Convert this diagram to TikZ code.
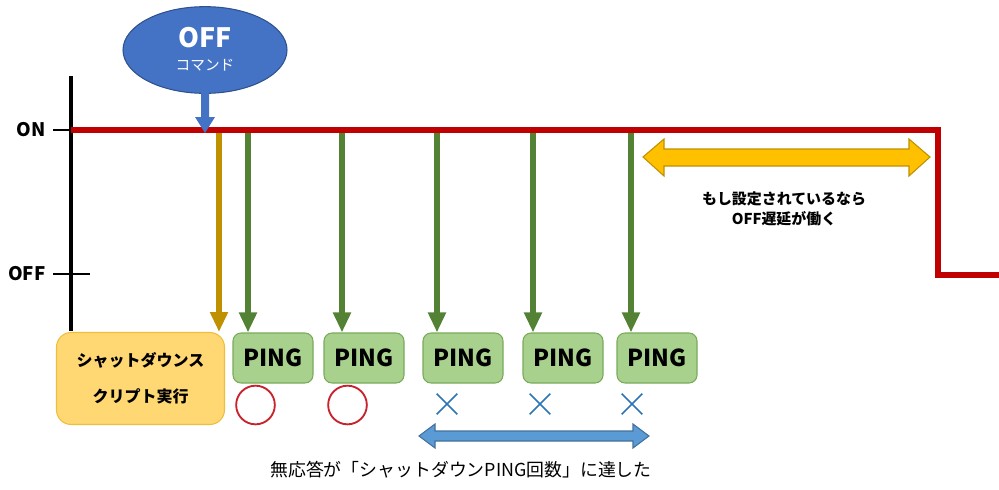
\documentclass[tikz,border=0pt]{standalone}
\usepackage{fontspec}
\setmainfont{Noto Sans CJK JP}
\usetikzlibrary{arrows.meta,shapes.geometric}
\definecolor{redline}{RGB}{192,0,0}
\definecolor{goldline}{RGB}{191,144,0}
\definecolor{greenline}{RGB}{84,130,53}
\definecolor{bluefill}{RGB}{68,114,196}
\definecolor{blueedge}{RGB}{47,82,143}
\definecolor{orangefill}{RGB}{255,215,115}
\definecolor{orangeedge}{RGB}{240,190,60}
\definecolor{pingfill}{RGB}{169,209,142}
\definecolor{pingedge}{RGB}{120,170,90}
\definecolor{circred}{RGB}{200,35,45}
\definecolor{xblue}{RGB}{46,117,182}
\definecolor{dblfill}{RGB}{91,155,213}
\definecolor{dbledge}{RGB}{65,113,156}
\definecolor{goldfill}{RGB}{255,192,0}
\tikzset{
  pingbox/.style={draw=pingedge, line width=0.8pt, fill=pingfill, rounded corners=6pt,
    minimum width=60pt, minimum height=37.5pt, inner sep=0pt,
    font=\fontsize{17.5}{20}\selectfont\bfseries},
  signal/.style={line width=3.8pt, -{Triangle[width=12.75pt,length=15pt]}},
  okmark/.style={draw=circred, line width=1.4pt, circle, minimum size=29pt, inner sep=0pt},
  ngmark/.style={inner sep=0pt, minimum size=15pt},
  axislabel/.style={font=\fontsize{14}{16}\selectfont\bfseries},
}
\begin{document}
\begin{tikzpicture}[x=0.75pt,y=-0.75pt]
\useasboundingbox (0,0) rectangle (999,489);
% axis
\coordinate (axtop) at (71,76);
\coordinate (axbot) at (71,331);
\draw[line width=3pt] (axtop) -- (axbot);
\coordinate (ontickL) at (53,130);
\coordinate (ontickR) at (71,130);
\draw[line width=1.2pt] (ontickL) -- (ontickR);
\coordinate (offtickL) at (53,274);
\coordinate (offtickR) at (90,274);
\draw[line width=1.2pt] (offtickL) -- (offtickR);
\node[axislabel, anchor=east] (onlbl) at (50,130) {ON};
\node[axislabel, anchor=east] (offlbl) at (50,274) {OFF};
% red signal
\coordinate (r0) at (71,130);
\coordinate (r1) at (938,130);
\coordinate (r2) at (938,275);
\coordinate (r3) at (999,275);
\draw[redline, line width=4.5pt] (r0) -- (r1) -- (r2) -- (r3);
% OFF command ellipse
\node[ellipse, draw=blueedge, line width=0.8pt, fill=bluefill, minimum width=123pt, minimum height=65pt, inner sep=0pt] (cmd) at (205,50) {};
\node[text=white, font=\fontsize{20}{22}\selectfont\bfseries] (cmdoff) at (205,38) {OFF};
\node[text=white, font=\fontsize{11}{12}\selectfont] (cmdtxt) at (205,65) {コマンド};
% blue down arrow (block)
\fill[bluefill] (201,92) -- (209,92) -- (209,117) -- (215,117) -- (205,133) -- (195,117) -- (201,117) -- cycle;
% orange box
\node[draw=orangeedge, line width=0.8pt, fill=orangefill, rounded corners=11pt,
  minimum width=126pt, minimum height=69pt, inner sep=0pt, align=center,
  font=\fontsize{12}{27}\selectfont\bfseries] (script) at (140.5,378.5) {シャットダウンス\\クリプト実行};
% PING boxes
\node[pingbox] (p1) at (273,358) {PING};
\node[pingbox] (p2) at (364,358) {PING};
\node[pingbox] (p3) at (463,358) {PING};
\node[pingbox] (p4) at (563,358) {PING};
\node[pingbox] (p5) at (657,358) {PING};
% signal arrows
\coordinate (s0) at (219,133);
\coordinate (s1) at (248,133);
\coordinate (s2) at (342,133);
\coordinate (s3) at (437,133);
\coordinate (s4) at (533,133);
\coordinate (s5) at (631,133);
\draw[signal, goldline] (s0) -- (219,332);
\draw[signal, greenline] (s1) -- (s1 |- p1.north);
\draw[signal, greenline] (s2) -- (s2 |- p2.north);
\draw[signal, greenline] (s3) -- (s3 |- p3.north);
\draw[signal, greenline] (s4) -- (s4 |- p4.north);
\draw[signal, greenline] (s5) -- (s5 |- p5.north);
% responses
\node[okmark] (ok1) at (255.5,405) {};
\node[okmark] (ok2) at (347.5,405) {};
\node[ngmark] (ng1) at (447,404) {};
\node[ngmark] (ng2) at (540,404) {};
\node[ngmark] (ng3) at (632,404) {};
\foreach \n in {ng1,ng2,ng3}{
  \draw[xblue, line width=1.3pt] (\n.north west) -- (\n.south east);
  \draw[xblue, line width=1.3pt] (\n.north east) -- (\n.south west);
}
% blue double arrow
\draw[dbledge, fill=dblfill, line width=0.8pt]
  (419,436) -- (435,424) -- (435,431) -- (633,431) -- (633,424) -- (649,436)
  -- (633,448) -- (633,441) -- (435,441) -- (435,448) -- cycle;
\node[font=\fontsize{13.4}{15}\selectfont] (noresp) at (461,470) {無応答が「シャットダウンPING回数」に達した};
% gold double arrow
\draw[goldline, fill=goldfill, line width=0.8pt]
  (643,157) -- (664,139) -- (664,149) -- (909,149) -- (909,139) -- (930,157)
  -- (909,176) -- (909,166) -- (664,166) -- (664,176) -- cycle;
\node[align=center, font=\fontsize{11.2}{14.5}\selectfont\bfseries] (delay) at (784,209) {もし設定されているなら\\OFF遅延が働く};
\end{tikzpicture}
\end{document}
